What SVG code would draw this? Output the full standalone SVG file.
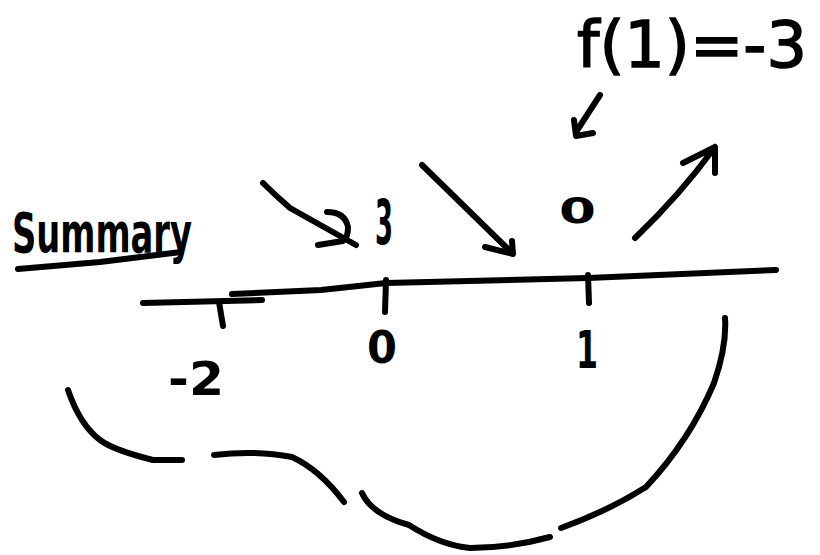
<svg xmlns="http://www.w3.org/2000/svg" width="820" height="555" viewBox="0 0 820 555">
<style>
.s{fill:none;stroke:#000;stroke-width:6;stroke-linecap:round;stroke-linejoin:round}
.t{font-family:"DejaVu Sans","Liberation Sans",sans-serif;fill:#000;font-weight:bold}
.f{font-family:"DejaVu Sans","Liberation Sans",sans-serif;fill:#000;stroke:#000;stroke-width:1.5;font-weight:normal}
</style>
<rect width="820" height="555" fill="#fff"/>
<g id="title">
<text class="t" x="12" y="252" font-size="56" textLength="180" lengthAdjust="spacingAndGlyphs">Summary</text>
<path class="s" d="M18,269 L100,262 L181,252"/>
</g>
<g id="formula">
<text class="f" x="577" y="67" font-size="64" textLength="230" lengthAdjust="spacingAndGlyphs">f(1)=-3</text>
</g>
<g id="axis">
<path class="s" d="M143,303 L262,300"/>
<path class="s" d="M232,294 L321,290 L386,283 L588,278 L776,270"/>
<path class="s" d="M219,302 L223,326"/>
<path class="s" d="M386,280 L385,312"/>
<path class="s" d="M588,275 L589,303"/>
</g>
<g id="label-m2"><text class="t" x="168" y="395" font-size="46" textLength="56" lengthAdjust="spacingAndGlyphs">-2</text></g>
<g id="label-0"><text class="t" x="367" y="363" font-size="45" textLength="30" lengthAdjust="spacingAndGlyphs">0</text></g>
<g id="label-1"><text class="t" x="576" y="368" font-size="52" textLength="22" lengthAdjust="spacingAndGlyphs">1</text></g>
<g id="value-3"><text class="t" x="375" y="244" font-size="62" textLength="18" lengthAdjust="spacingAndGlyphs">3</text></g>
<g id="value-0"><text class="t" x="559" y="223" font-size="35" textLength="37" lengthAdjust="spacingAndGlyphs">0</text></g>
<g id="connectors">
<path class="s" d="M263,183 Q275,195 290,208 L356,245"/>
<path class="s" d="M327,212 Q345,212 348,227 Q348,238 343,241 L318,245"/>
<path class="s" d="M422,165 L513,254 M485,247 L513,254 L512,241"/>
<path class="s" d="M635,238 Q680,195 715,147 M683,163 L715,147 L715,173"/>
<path class="s" d="M600,95 L576,132 M574,120 L576,136 L593,133"/>
</g>
<g id="brace">
<path class="s" d="M68,390 Q80,425 100,440 Q113,450 153,460 L182,460"/>
<path class="s" d="M214,455 Q256,450 292,457 Q320,470 344,502"/>
<path class="s" d="M362,493 Q372,515 409,525 Q440,545 470,548 Q510,548 550,537"/>
<path class="s" d="M561,528 Q610,510 646,487 Q690,440 714,383 Q727,345 725,318"/>
</g>
</svg>
